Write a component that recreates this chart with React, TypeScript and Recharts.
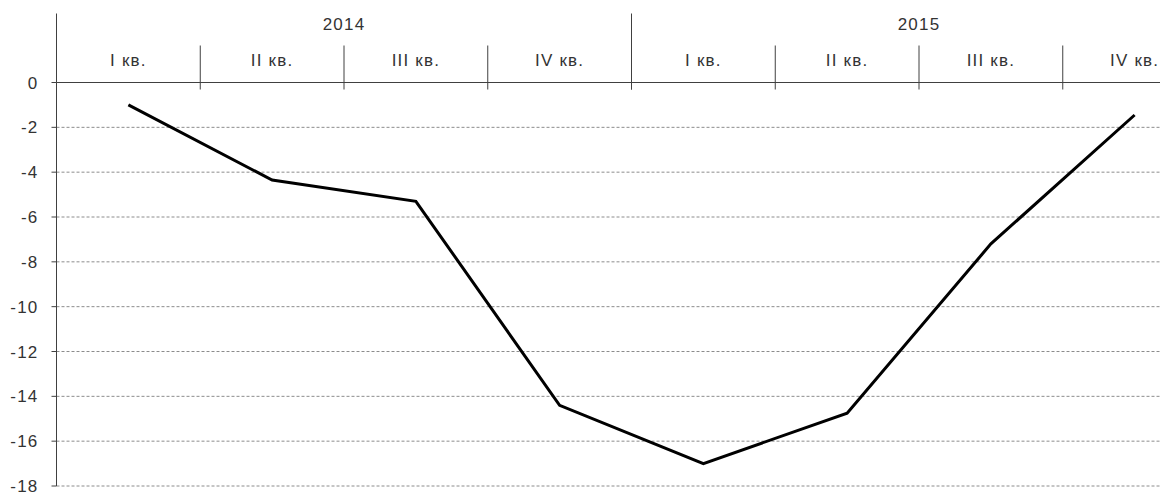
import { LineChart, Line, XAxis, YAxis, CartesianGrid } from "recharts";

const quarters = ["I кв.", "II кв.", "III кв.", "IV кв.", "I кв.", "II кв.", "III кв.", "IV кв."];
const years = ["2014", "2014", "2014", "2014", "2015", "2015", "2015", "2015"];
const values = [-1.0, -4.35, -5.3, -14.4, -17.0, -14.75, -7.2, -1.45];
const yTicks = [0, -2, -4, -6, -8, -10, -12, -14, -16, -18];

const data = quarters.map((q, i) => ({ key: `${years[i]}-${i}`, q, year: years[i], v: values[i] }));

const FONT = "'Liberation Sans', Arial, sans-serif";
const AXIS = "#404040";
const TEXT = "#333";
const FS = 17;
const LS = 1.2;

function QuarterTick(props: any) {
  const { x, y, payload } = props;
  const i: number = payload.index;
  const half: number = payload.offset || 71.8;
  const d = data[i];
  const last = i === data.length - 1;
  return (
    <g>
      <text x={x} y={y - 17} textAnchor="middle" fontFamily={FONT} fontSize={FS} letterSpacing={LS} fill={TEXT}>
        {d.q}
      </text>
      {!last && <line x1={x + half} x2={x + half} y1={y - 37} y2={y + 7} stroke={AXIS} />}
      {i % 4 === 0 && <line x1={x - half} x2={x - half} y1={y - 69} y2={y + (i === 0 ? 0 : 7)} stroke={AXIS} />}
      {i % 4 === 1 && (
        <text x={x + half} y={y - 53} textAnchor="middle" fontFamily={FONT} fontSize={FS} letterSpacing={LS} fill={TEXT}>
          {d.year}
        </text>
      )}
    </g>
  );
}

export default function App() {
  return (
    <div style={{ position: "absolute", left: 0, top: 0, width: 1160, height: 494, overflow: "hidden", background: "#fff" }}>
      <LineChart width={1210} height={494} data={data} margin={{ top: 12.5, right: 3.5, bottom: 8, left: 6.5 }}>
        <CartesianGrid horizontal vertical={false} stroke="#8c8c8c" strokeDasharray="3 2" />
        <XAxis
          dataKey="key"
          orientation="top"
          scale="band"
          height={70}
          axisLine={{ stroke: AXIS }}
          tickLine={false}
          tickSize={0}
          tickMargin={0}
          interval={0}
          tick={<QuarterTick />}
        />
        <YAxis
          type="number"
          domain={[-18, 0]}
          ticks={yTicks}
          interval={0}
          width={50}
          axisLine={{ stroke: AXIS }}
          tickLine={{ stroke: AXIS }}
          tickSize={5}
          tickMargin={13}
          tick={{ fontFamily: FONT, fontSize: FS, fill: TEXT, letterSpacing: LS }}
        />
        <Line
          type="linear"
          dataKey="v"
          stroke="#000"
          strokeWidth={3}
          dot={false}
          isAnimationActive={false}
        />
      </LineChart>
    </div>
  );
}
